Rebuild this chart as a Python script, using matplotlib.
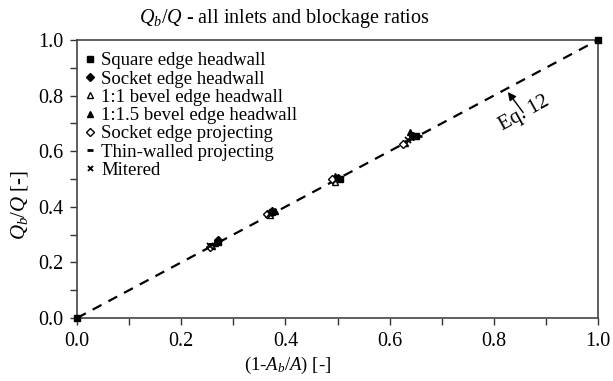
import matplotlib
matplotlib.use('Agg')
import matplotlib.pyplot as plt
from matplotlib.ticker import MultipleLocator, FormatStrFormatter

plt.rcParams['font.family'] = 'Liberation Serif'
plt.rcParams['mathtext.fontset'] = 'custom'
plt.rcParams['mathtext.rm'] = 'Liberation Serif'
plt.rcParams['mathtext.it'] = 'Liberation Serif:italic'

# inlet series
square_x = [0.0, 0.27, 0.375, 0.505, 0.65, 1.0]
square_y = [0.0, 0.275, 0.38, 0.50, 0.655, 1.0]
socket_hw_x = [0.27, 0.375, 0.50, 0.645]
socket_hw_y = [0.28, 0.385, 0.505, 0.655]
bevel11_x = [0.26, 0.37, 0.495, 0.63]
bevel11_y = [0.26, 0.37, 0.49, 0.63]
bevel115_x = [0.265, 0.38, 0.495, 0.64]
bevel115_y = [0.27, 0.385, 0.51, 0.67]
socket_pr_x = [0.255, 0.365, 0.49, 0.625]
socket_pr_y = [0.255, 0.375, 0.50, 0.625]
thin_x = [0.26, 0.375, 0.50, 0.655]
thin_y = [0.265, 0.38, 0.505, 0.655]
mitered_x = [0.255, 0.37, 0.50, 0.635]
mitered_y = [0.26, 0.375, 0.50, 0.64]

# Eq. 12 line
eq_x = [0.0, 1.0]
eq_y = [0.0, 1.0]

fig = plt.figure(figsize=(6.13, 3.81), dpi=100)
ax = fig.add_axes([77 / 613, 1 - 318 / 381, 521 / 613, 278 / 381])

ax.plot(eq_x, eq_y, 'k--', lw=1.6, dashes=(4.5, 3.5), zorder=2)

ms = 4.5
kw = dict(zorder=3, clip_on=False, ls='none')
ax.plot(square_x, square_y, 's', color='k', ms=ms, label='Square edge headwall', **kw)
ax.plot(socket_hw_x, socket_hw_y, 'D', color='k', ms=ms - 0.5, label='Socket edge headwall', **kw)
ax.plot(bevel11_x, bevel11_y, '^', mfc='white', mec='k', mew=1, ms=ms, label='1:1 bevel edge headwall', **kw)
ax.plot(bevel115_x, bevel115_y, '^', color='k', ms=ms, label='1:1.5 bevel edge headwall', **kw)
ax.plot(socket_pr_x, socket_pr_y, 'D', mfc='white', mec='k', mew=1, ms=ms - 0.5, label='Socket edge projecting', **kw)
ax.plot(thin_x, thin_y, '_', color='k', ms=ms + 1, mew=2, label='Thin-walled projecting', **kw)
ax.plot(mitered_x, mitered_y, 'x', color='k', ms=ms - 0.5, mew=1.3, label='Mitered', **kw)

ax.annotate('Eq. 12', xy=(0.827, 0.813), xytext=(0.858, 0.735),
            fontsize=15, rotation=29, ha='center', va='center',
            arrowprops=dict(arrowstyle='-|>', color='k', lw=1, mutation_scale=12,
                            shrinkA=1, shrinkB=0))

ax.set_xlim(0, 1)
ax.set_ylim(0, 1)
ax.xaxis.set_major_locator(MultipleLocator(0.2))
ax.xaxis.set_minor_locator(MultipleLocator(0.1))
ax.yaxis.set_major_locator(MultipleLocator(0.2))
ax.yaxis.set_minor_locator(MultipleLocator(0.1))
ax.xaxis.set_major_formatter(FormatStrFormatter('%.1f'))
ax.yaxis.set_major_formatter(FormatStrFormatter('%.1f'))
ax.tick_params(which='both', direction='out', length=5, width=1, labelsize=14.5,
               color='#333333', pad=5)
for s in ax.spines.values():
    s.set_color('#444444')
    s.set_linewidth(1.2)

fig.text(284 / 613, 1 - 18 / 381, r'$Q_b/Q$ - all inlets and blockage ratios',
         fontsize=14.5, ha='center', va='center')
ax.set_xlabel(r'(1-$A_b/A$) [-]', fontsize=13.5)
ax.xaxis.set_label_coords((288 - 77) / 521, -(365 - 318) / 278)
ax.xaxis.label.set_va('center')
ax.set_ylabel(r'$Q_b/Q$ [-]', fontsize=15)
ax.yaxis.set_label_coords(-(77 - 19) / 521, (318 - 205) / 278)
ax.yaxis.label.set_va('center')

ax.legend(loc='upper left', bbox_to_anchor=(-0.008, 1.0), frameon=False,
          fontsize=13.5, handlelength=0.5, handletextpad=0.35, labelspacing=0.06,
          borderaxespad=0.45, borderpad=0.2, markerscale=0.9)

fig.savefig('out.png', dpi=100)
